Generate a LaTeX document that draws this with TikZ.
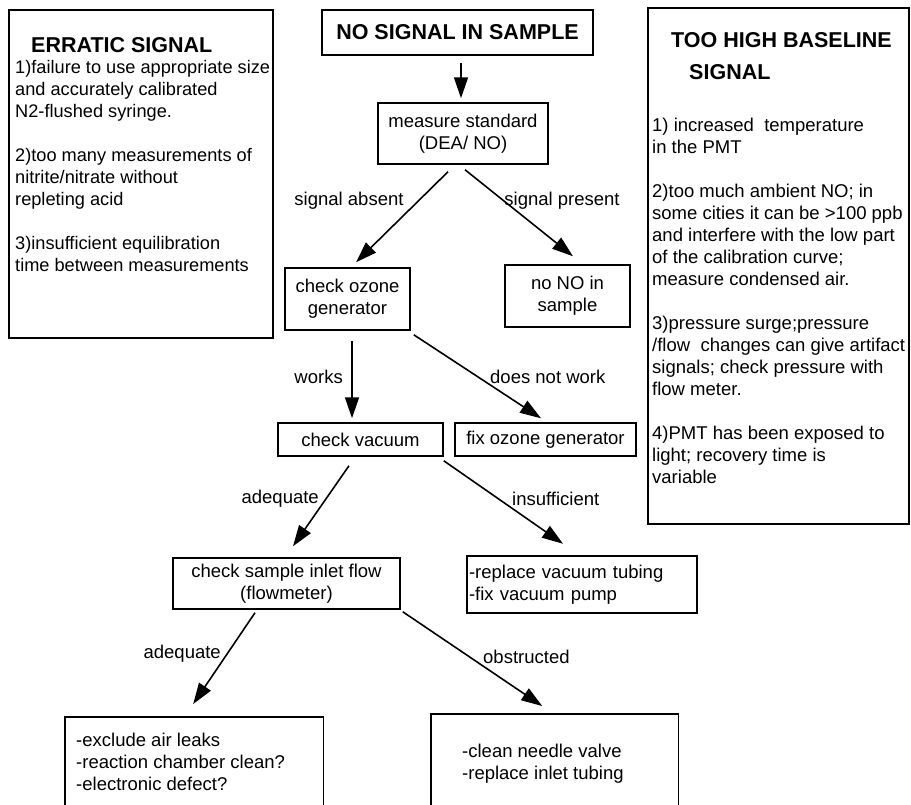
\documentclass[tikz,border=0pt]{standalone}
\usepackage{fontspec}
\setmainfont{Liberation Sans}
\usetikzlibrary{arrows.meta}
\begin{document}
\begin{tikzpicture}[x=1pt,y=-1pt,
  bodyf/.style={font=\fontsize{18.5}{22}\selectfont},
  box/.style={draw, line width=1.5pt, inner sep=0pt, align=center, bodyf},
  openbox/.style={inner sep=0pt, anchor=north west},
  arr/.style={line width=1.6pt, -{Triangle[length=21pt,width=14pt]}},
  lbl/.style={inner sep=0pt, bodyf},
  txt/.style={inner sep=0pt, align=left, bodyf, anchor=north west},
  ttl/.style={inner sep=0pt, anchor=west, font=\fontsize{21.5}{25}\selectfont\bfseries}]

\fill[white] (0,0) rectangle (911,804);
\useasboundingbox (0,0) rectangle (911,804);

% side boxes
\node[box, minimum width=264pt, minimum height=328pt] (err) at (141,174) {};
\node[ttl] (errt) at (31,45) {ERRATIC SIGNAL};
\node[txt, font=\fontsize{18.2}{22}\selectfont] (errb) at (15,60) {1)failure to use appropriate size\\ and accurately calibrated\\ N2-flushed syringe.\\[22pt] 2)too many measurements of\\ nitrite/nitrate without\\ repleting acid\\[22pt] 3)insufficient equilibration\\ time between measurements};

\node[box, minimum width=261pt, minimum height=516pt] (high) at (778.5,266) {};
\node[ttl] (hight1) at (671,40) {TOO HIGH BASELINE};
\node[ttl] (hight2) at (689,72) {SIGNAL};
\node[txt] (highb) at (652,118) {1) increased\ \ temperature\\ in the PMT\\[22pt] 2)too much ambient NO; in\\ some cities it can be >100 ppb\\ and interfere with the low part\\ of the calibration curve;\\ measure condensed air.\\[22pt] 3)pressure surge;pressure\\ /flow\ \ changes can give artifact\\ signals; check pressure with\\ flow meter.\\[22pt] 4)PMT has been exposed to\\ light; recovery time is\\ variable};

% flow chart
\node[box, minimum width=271pt, minimum height=45pt, font=\fontsize{21.5}{25}\selectfont\bfseries] (nosig) at (457.5,32.5) {NO SIGNAL IN SAMPLE};
\node[box, minimum width=170pt, minimum height=61pt] (ms) at (463,133.5) {measure standard\\(DEA/ NO)};
\node[box, minimum width=125pt, minimum height=62pt] (coz) at (347.5,299) {check ozone\\generator};
\node[box, minimum width=125pt, minimum height=62pt] (nono) at (567.5,296) {no NO in\\sample};
\node[box, minimum width=165pt, minimum height=33pt] (cv) at (360.5,439.5) {check vacuum};
\node[box, minimum width=181pt, minimum height=33pt] (foz) at (545.5,439.5) {fix ozone generator};
\node[box, minimum width=227pt, minimum height=51pt] (csi) at (286.5,583.5) {check sample inlet flow\\(flowmeter)};
\node[box, minimum height=57pt, text width=226pt, inner xsep=2pt, align=left] (rep) at (582,584.5) {-replace vacuum tubing\\-fix vacuum pump};

\node[openbox, minimum width=258pt, minimum height=120pt] (bl) at (65,717) {};
\draw[line width=1.5pt] (bl.south west) -- (bl.north west) -- (bl.north east) -- (bl.south east);
\node[txt] (blt) at (76,733) {-exclude air leaks\\-reaction chamber clean?\\-electronic defect?};

\node[openbox, minimum width=247pt, minimum height=120pt] (br) at (431,714) {};
\draw[line width=1.5pt] (br.south west) -- (br.north west) -- (br.north east) -- (br.south east);
\node[txt] (brt) at (462,744) {-clean needle valve\\-replace inlet tubing};

% connectors
\draw[arr] ([shift={(3.5,7)}]nosig.south) -- ([shift={(-2,-4)}]ms.north);
\draw[arr] ([shift={(-15,7)}]ms.south) -- ([shift={(8.5,-5)}]coz.north);
\draw[arr] ([shift={(2,5)}]ms.south) -- ([shift={(5.5,-8)}]nono.north);
\draw[arr] ([shift={(4.5,10)}]coz.south) -- ([shift={(-8.5,-4)}]cv.north);
\draw[arr] ([shift={(3,4)}]coz.south east) -- ([shift={(-4.5,-4)}]foz.north);
\draw[arr] ([shift={(-11.5,9)}]cv.south) -- ([shift={(6.5,-11)}]csi.north);
\draw[arr] ([shift={(0,4)}]cv.south east) -- ([shift={(-19,-11.5)}]rep.north);
\draw[arr] ([shift={(-31.5,3)}]csi.south) -- ([shift={(-1,-13)}]bl.north);
\draw[arr] ([shift={(2,2)}]csi.south east) -- ([shift={(-12.5,-8)}]br.north);

% labels
\node[lbl] (l1) at (349,201) {signal absent};
\node[lbl] (l2) at (562,201) {signal present};
\node[lbl, anchor=east] (l3) at (343,377) {works};
\node[lbl, anchor=west] (l4) at (490,377) {does not work};
\node[lbl, anchor=east] (l5) at (319,499) {adequate};
\node[lbl, anchor=west] (l6) at (512,499) {insufficient};
\node[lbl, anchor=east] (l7) at (221,654) {adequate};
\node[lbl, anchor=west] (l8) at (483,657) {obstructed};
\end{tikzpicture}
\end{document}
